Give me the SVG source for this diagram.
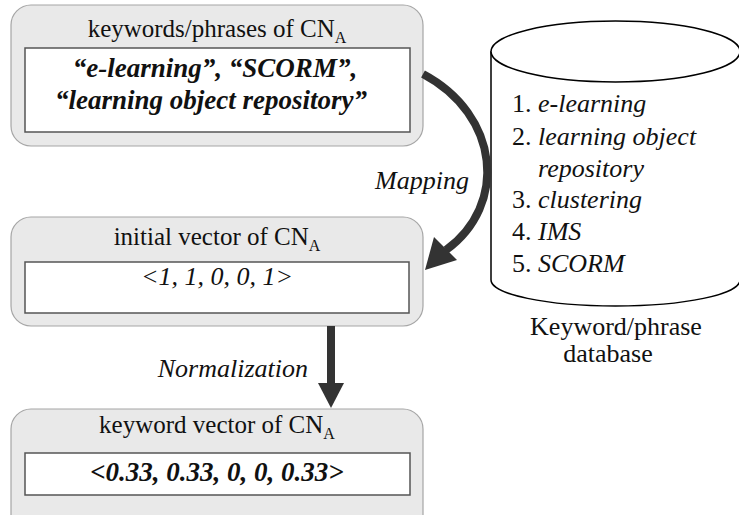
<svg xmlns="http://www.w3.org/2000/svg" width="739" height="515" viewBox="0 0 739 515">
<style>
.outer{fill:#e9e9e9;stroke:#a6a6a6;stroke-width:1.2}
.inner{fill:#ffffff;stroke:#555555;stroke-width:1.5}
text{font-family:'Liberation Serif','Times New Roman','DejaVu Serif',serif;fill:#111}
.title{font-size:25px;text-anchor:middle}
.sub{font-size:16px}
.bi{font-size:27px;font-weight:bold;font-style:italic;text-anchor:middle}
.it{font-size:26px;font-style:italic}
.reg{font-size:26px}
.arrow{fill:none;stroke:#333333;stroke-width:8}
.head{fill:#333333}
.cyl{fill:#ffffff;stroke:#000000;stroke-width:1.5}
</style>
<rect width="739" height="515" fill="#ffffff"/>
<g id="db" font-family="Liberation Serif, serif">
<path class="cyl" d="M491 52 L491 280 A124.5 26 0 0 0 740 280 L740 52 Z"/>
<ellipse class="cyl" cx="615.5" cy="51.5" rx="124.5" ry="30.5"/>
<text class="reg" x="512" y="112">1. <tspan font-style="italic">e-learning</tspan></text>
<text class="reg" x="512" y="145">2. <tspan font-style="italic">learning object</tspan></text>
<text class="reg" x="538" y="177" font-style="italic">repository</text>
<text class="reg" x="512" y="208">3. <tspan font-style="italic">clustering</tspan></text>
<text class="reg" x="512" y="240">4. <tspan font-style="italic">IMS</tspan></text>
<text class="reg" x="512" y="272">5. <tspan font-style="italic">SCORM</tspan></text>
<text class="reg" x="616" y="335" text-anchor="middle">Keyword/phrase</text>
<text class="reg" x="608" y="362" text-anchor="middle">database</text>
</g>
<g id="box1">
<rect class="outer" x="11" y="5" width="412" height="141" rx="20"/>
<rect class="inner" x="25" y="48" width="385" height="84"/>
<text class="title" x="217" y="37">keywords/phrases of CN<tspan class="sub" dy="6">A</tspan></text>
<text class="bi" x="215" y="77">“e-learning”, “SCORM”,</text>
<text class="bi" x="211" y="109">“learning object repository”</text>
</g>
<g id="box2">
<rect class="outer" x="11" y="217" width="412" height="109" rx="20"/>
<rect class="inner" x="25" y="262" width="384" height="51"/>
<text class="title" x="217" y="245">initial vector of CN<tspan class="sub" dy="6">A</tspan></text>
<text class="it" x="217" y="285" text-anchor="middle">&lt;1, 1, 0, 0, 1&gt;</text>
</g>
<g id="box3">
<rect class="outer" x="11" y="409" width="412" height="130" rx="20"/>
<rect class="inner" x="25" y="453" width="385" height="42"/>
<text class="title" x="217" y="433">keyword vector of CN<tspan class="sub" dy="6">A</tspan></text>
<text class="bi" x="217" y="481">&lt;0.33, 0.33, 0, 0, 0.33&gt;</text>
</g>
<g id="connectors">
<path class="arrow" d="M423 74 C500 115 508 205 446 250"/>
<polygon class="head" points="425,270 434,237 457,260"/>
<text class="it" x="375" y="189">Mapping</text>
<rect class="head" x="327" y="326" width="8" height="58"/>
<polygon class="head" points="318,383 344,383 331,408"/>
<text class="it" x="308" y="377" text-anchor="end">Normalization</text>
</g>
</svg>
